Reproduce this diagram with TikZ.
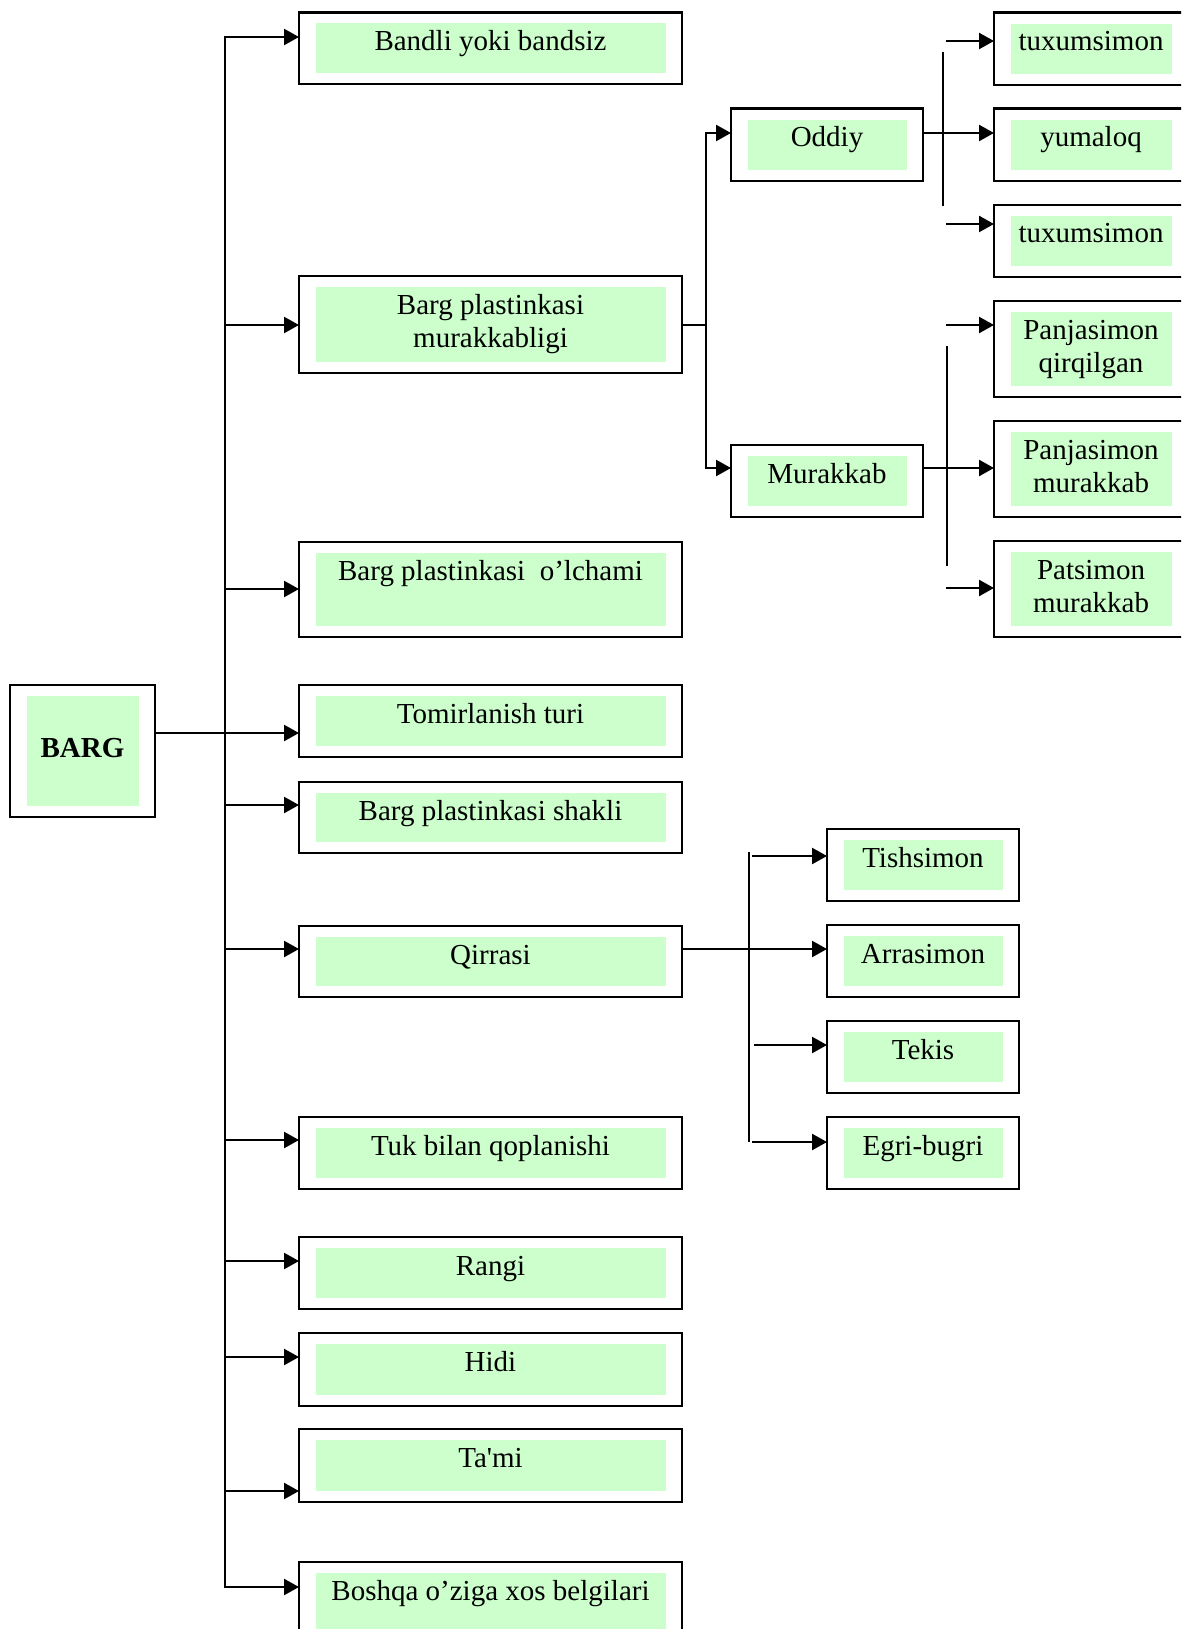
\documentclass[tikz,border=0pt]{standalone}
\usepackage{fontspec}
\setmainfont{Liberation Serif}
\usetikzlibrary{arrows.meta}
\definecolor{leafgreen}{HTML}{CCFFCC}
\tikzset{
  frame/.style={draw=black, line width=2.3pt, inner sep=0pt, outer sep=0pt},
  lbl/.style={anchor=base, inner sep=0pt, align=center, font=\fontsize{29}{33.5}\selectfont},
  link/.style={draw=black, line width=2.4pt, line cap=rect},
  arr/.style={draw=black, line width=2.4pt, -{Triangle[length=15pt,width=16pt]}},
}
% framed box with a pale green panel and its caption:
% [number of caption lines] name, left, top, right, bottom, text
% (the base anchor of a multi-line caption sits on its last line)
\newcommand\gbox[7][1]{%
  \node[frame, minimum width={#5-#3}, minimum height={#6-#4}] (#2) at ({(#3+#5)/2},{(#4+#6)/2}) {};
  \fill[leafgreen] ({#3+16.5},{#4+11}) rectangle ({#5-16.5},{#6-11});
  \node[lbl] at ({(#3+#5)/2},{#4+38+33.5*(#1-1)}) {#7};
}
\begin{document}
\begin{tikzpicture}[x=1pt,y=-1pt]
\useasboundingbox (0,0) rectangle (1181,1629);
\clip (0,0) rectangle (1181,1629);

% root
\node[frame, minimum width=145, minimum height=132] (barg) at (82.5,751) {};
\fill[leafgreen] (27,696) rectangle (139,806);
\node[lbl, font=\fontsize{29}{33.5}\selectfont\bfseries] at (82.5,757.5) {BARG};

% first level
\gbox{b1}{299}{12.5}{682}{84}{Bandli yoki bandsiz}
\gbox[2]{b2}{299}{276}{682}{373}{Barg plastinkasi\\murakkabligi}
\gbox{b3}{299}{542}{682}{637}{Barg plastinkasi\ \ o’lchami}
\gbox{b4}{299}{685}{682}{757}{Tomirlanish turi}
\gbox{b5}{299}{782}{682}{853}{Barg plastinkasi shakli}
\gbox{b6}{299}{926}{682}{997}{Qirrasi}
\gbox{b7}{299}{1117}{682}{1189}{Tuk bilan qoplanishi}
\gbox{b8}{299}{1237}{682}{1309}{Rangi}
\gbox{b9}{299}{1333}{682}{1406}{Hidi}
\gbox{b10}{299}{1429}{682}{1502}{Ta\textquotesingle mi}
\gbox{b11}{299}{1562}{682}{1662}{Boshqa o’ziga xos belgilari}

% second level: blade complexity
\gbox{oddiy}{731}{108.6}{923}{181}{Oddiy}
\gbox{murakkab}{731}{445}{923}{517}{Murakkab}

% third level: blade forms
\gbox{r1}{994}{12.6}{1188}{85}{tuxumsimon}
\gbox{r2}{994}{108.6}{1188}{181}{yumaloq}
\gbox{r3}{994}{205}{1188}{277}{tuxumsimon}
\gbox[2]{r4}{994}{301}{1188}{397}{Panjasimon\\qirqilgan}
\gbox[2]{r5}{994}{421}{1188}{517}{Panjasimon\\murakkab}
\gbox[2]{r6}{994}{541}{1188}{637}{Patsimon\\murakkab}

% second level: margin types
\gbox{e1}{827}{829}{1019}{901}{Tishsimon}
\gbox{e2}{827}{925}{1019}{997}{Arrasimon}
\gbox{e3}{827}{1021}{1019}{1093}{Tekis}
\gbox{e4}{827}{1117}{1019}{1189}{Egri-bugri}

% main trunk and its branches
\foreach \n/\y in {b1/37, b2/325, b3/589, b4/733, b5/805, b6/949, b7/1140, b8/1261, b9/1357, b10/1491, b11/1587}
  \coordinate (t-\n) at (225,\y);
\draw[link] (t-b1) -- (t-b11);
\foreach \n in {b1, b2, b3, b5, b6, b7, b8, b9, b10, b11}
  \draw[arr] (t-\n) -- (t-\n -| \n.west);
\draw[arr] (barg.east |- t-b4) -- (t-b4 -| b4.west);

% complexity branch
\coordinate (j-odd) at (706,133);
\coordinate (j-mur) at (706,468);
\draw[link] (b2.east |- t-b2) -- (t-b2 -| j-odd);
\draw[link] (j-odd) -- (j-mur);
\draw[arr] (j-odd) -- (j-odd -| oddiy.west);
\draw[arr] (j-mur) -- (j-mur -| murakkab.west);

% simple blade forms
\draw[arr] (oddiy.east |- j-odd) -- (j-odd -| r2.west);
\coordinate (v1a) at (943,53);
\coordinate (v1b) at (943,205);
\draw[link] (v1a) -- (v1b);
\coordinate (s1) at (946,41);
\coordinate (s3) at (946,224);
\draw[arr] (s1) -- (s1 -| r1.west);
\draw[arr] (s3) -- (s3 -| r3.west);

% compound blade forms
\draw[arr] (murakkab.east |- j-mur) -- (j-mur -| r5.west);
\coordinate (v2a) at (947,347);
\coordinate (v2b) at (947,565);
\draw[link] (v2a) -- (v2b);
\coordinate (s4) at (946,325);
\coordinate (s6) at (946,588);
\draw[arr] (s4) -- (s4 -| r4.west);
\draw[arr] (s6) -- (s6 -| r6.west);

% margin branch
\draw[arr] (b6.east |- t-b6) -- (t-b6 -| e2.west);
\coordinate (v3a) at (749,853);
\coordinate (v3b) at (749,1141);
\draw[link] (v3a) -- (v3b);
\coordinate (q1) at (752,856);
\coordinate (q3) at (754,1045);
\coordinate (q4) at (752,1142);
\draw[arr] (q1) -- (q1 -| e1.west);
\draw[arr] (q3) -- (q3 -| e3.west);
\draw[arr] (q4) -- (q4 -| e4.west);
\end{tikzpicture}
\end{document}
